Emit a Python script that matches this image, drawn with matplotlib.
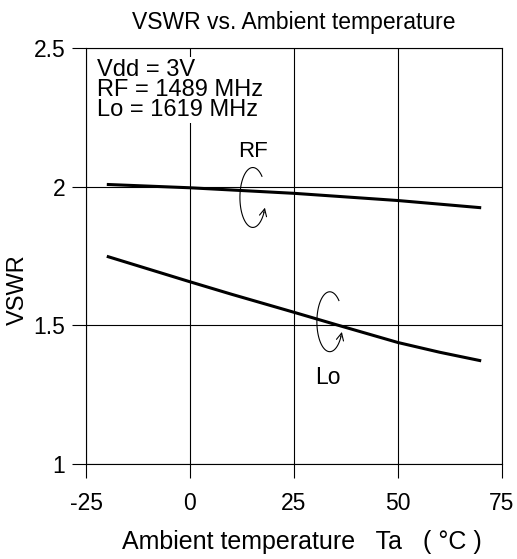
import numpy as np
import matplotlib
matplotlib.use("Agg")
import matplotlib.pyplot as plt

plt.rcParams['font.family'] = ['Liberation Sans', 'DejaVu Sans']
plt.rcParams['axes.unicode_minus'] = False

# values
ta_rf = [-20, 0, 25, 50, 70]
vswr_rf = [2.008, 1.996, 1.976, 1.950, 1.924]

ta_lo = [-20, -10, 0, 10, 25, 35, 50, 60, 70]
vswr_lo = [1.749, 1.703, 1.657, 1.612, 1.547, 1.503, 1.438, 1.403, 1.372]

xticks = [-25, 0, 25, 50, 75]
yticks = [1, 1.5, 2, 2.5]
ytick_labels = ["1", "1.5", "2", "2.5"]

fig = plt.figure(figsize=(5.17, 5.59), dpi=100)
ax = fig.add_axes([86/517, 95/559, 416/517, 416/559])

ax.plot(ta_rf, vswr_rf, color="black", lw=2.2, solid_capstyle="butt")
ax.plot(ta_lo, vswr_lo, color="black", lw=2.2, solid_capstyle="butt")

ax.set_xlim(-25, 75)
ax.set_ylim(1, 2.5)
ax.set_xticks(xticks)
ax.set_yticks(yticks)
ax.set_yticklabels(ytick_labels)
ax.tick_params(direction="out", length=10, width=0.8, labelsize=16.5, pad=5)
ax.tick_params(axis="x", pad=10)
ax.grid(True, color="black", lw=0.8)
for s in ax.spines.values():
    s.set_linewidth(0.8)

ax.set_title("VSWR vs. Ambient temperature", fontsize=16.5, pad=14)
ax.set_xlabel("Ambient temperature   Ta   ( \u00b0C )", fontsize=18, labelpad=11)
ax.xaxis.label.set_x(0.52)
ax.set_ylabel("VSWR", fontsize=17, labelpad=3)
ax.yaxis.label.set_y(0.42)

ax.text(0.026, 0.974, "Vdd = 3V\nRF = 1489 MHz\nLo = 1619 MHz", transform=ax.transAxes,
        fontsize=17, va="top", ha="left", linespacing=0.9,
        bbox=dict(facecolor="white", edgecolor="none", pad=1))


def curl(cx, cy, rx, ry):
    t = np.radians(np.linspace(45, 330, 80))
    xs = cx + rx * np.cos(t)
    ys = cy + ry * np.sin(t)
    ax.plot(xs, ys, color="black", lw=0.8)
    ax.annotate("", xy=(xs[-1] + 0.12 * rx, ys[-1] + 0.25 * ry), xytext=(xs[-3], ys[-3]),
                arrowprops=dict(arrowstyle="->", color="black", lw=0.8, mutation_scale=13))


curl(15.1, 1.961, 3.1, 0.108)
ax.text(15.1, 2.128, "RF", fontsize=16, ha="center", va="center")
curl(33.6, 1.513, 3.1, 0.108)
ax.text(33.2, 1.311, "Lo", fontsize=16.5, ha="center", va="center")

fig.savefig("out.png", dpi=100)
